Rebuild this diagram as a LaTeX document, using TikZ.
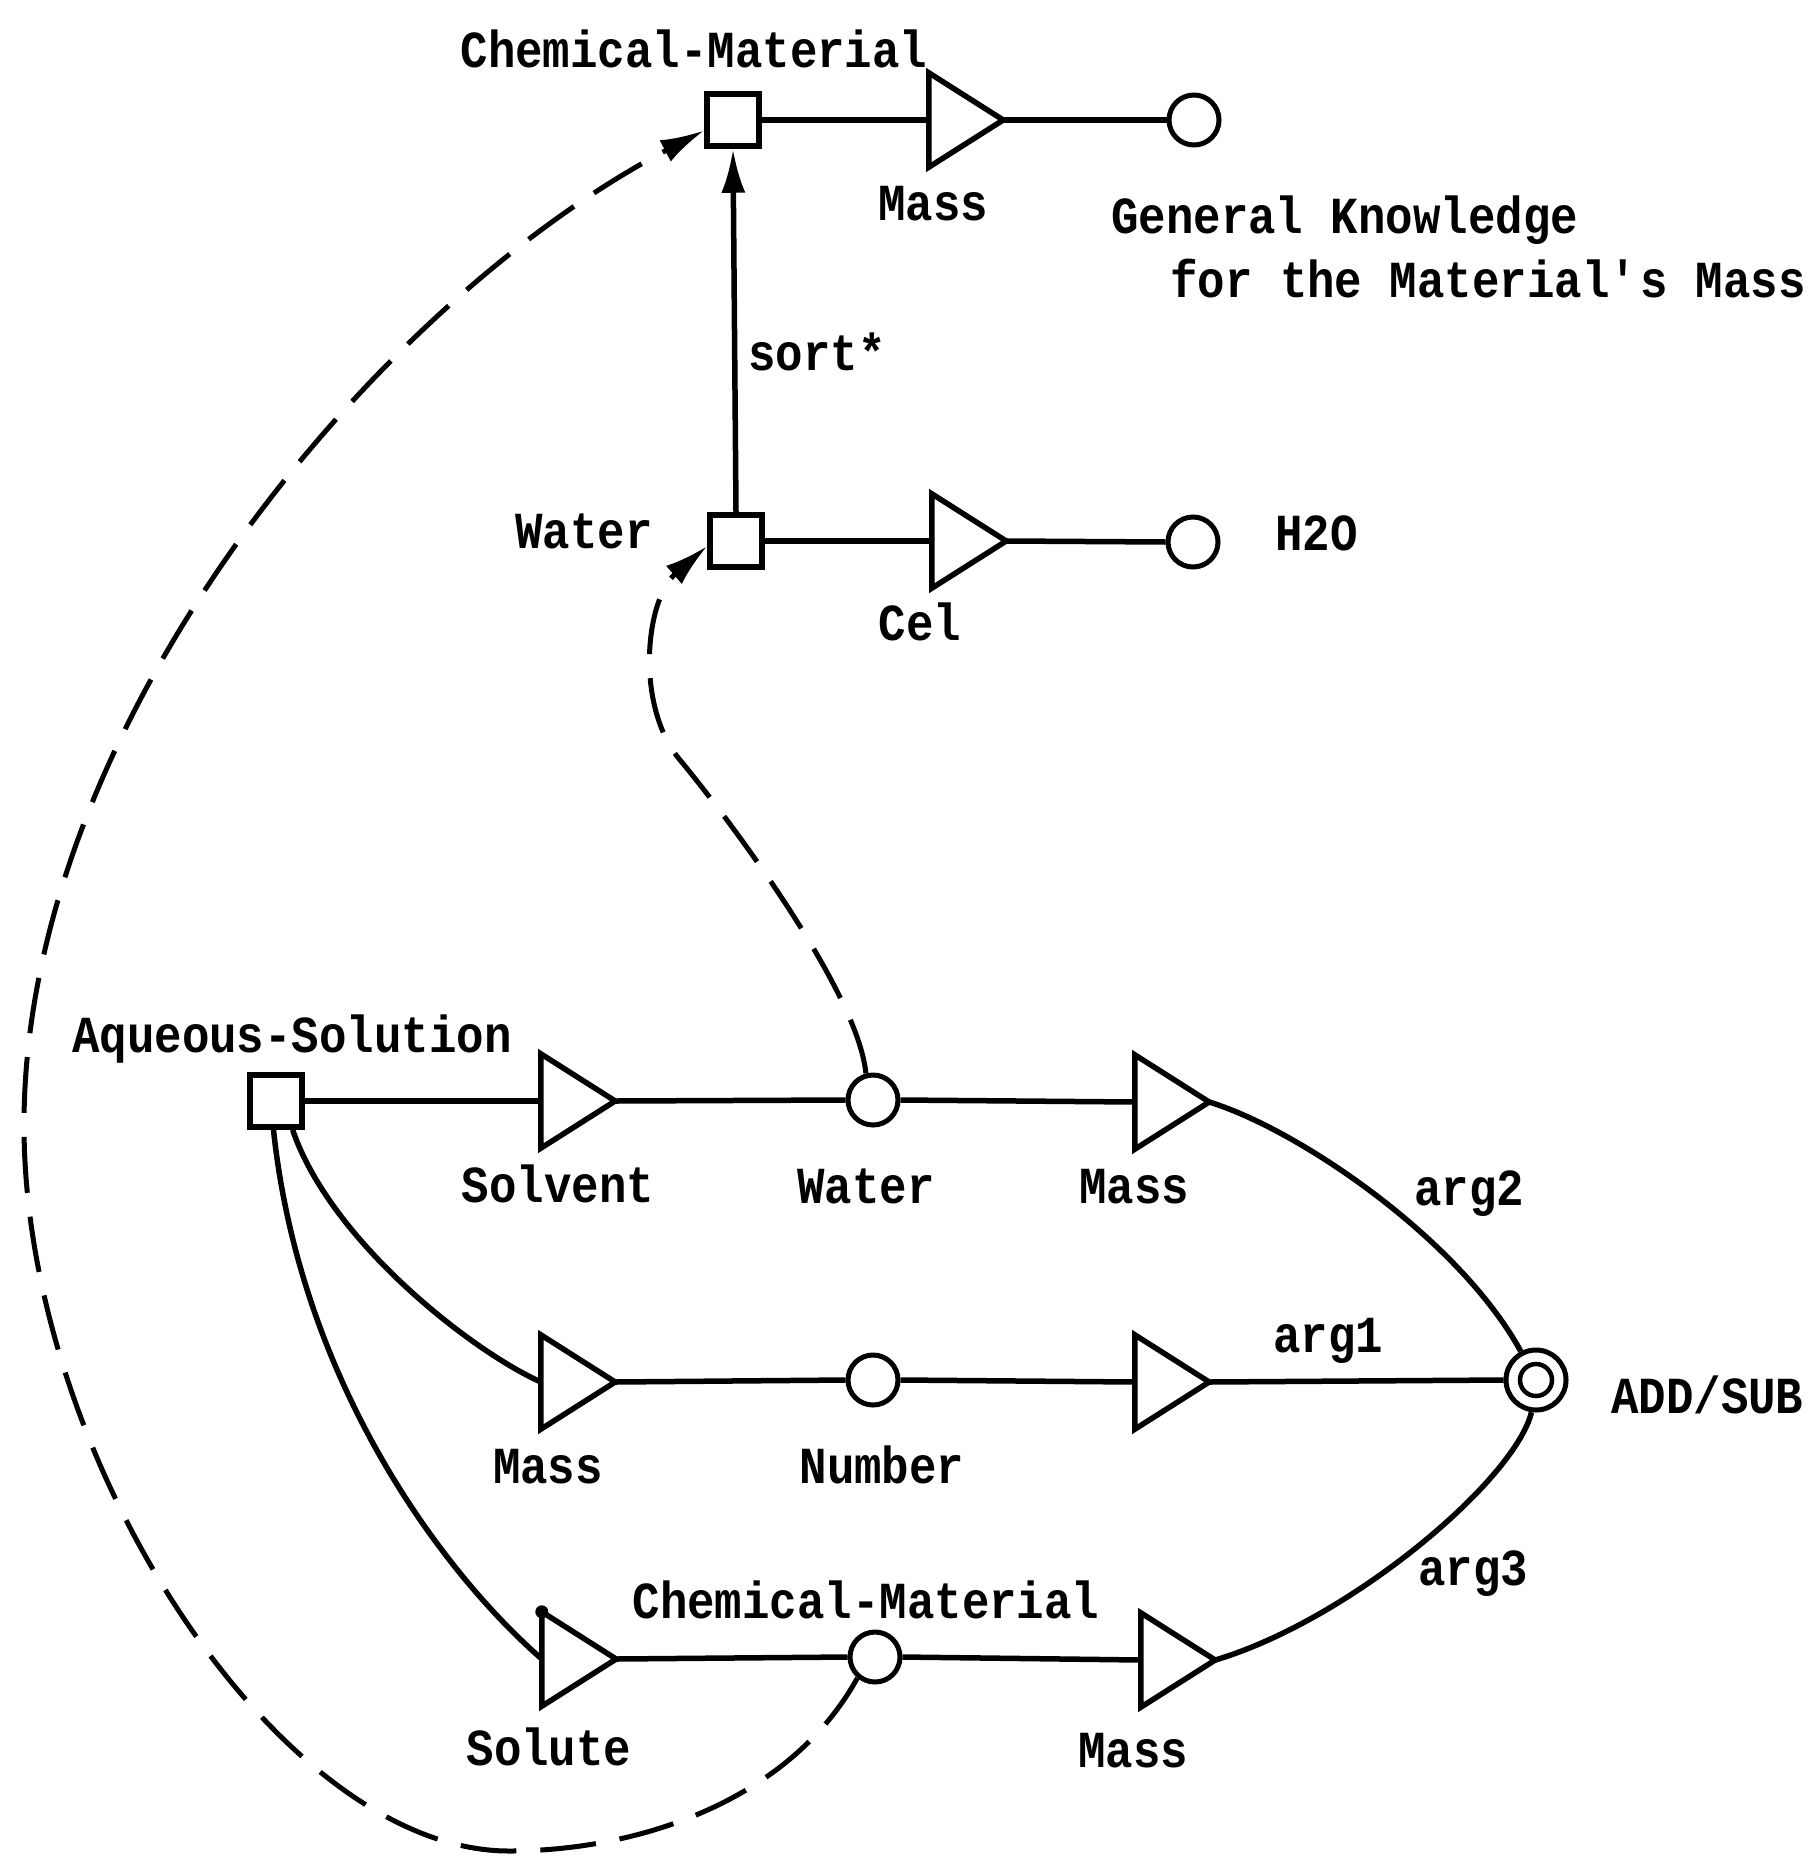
\documentclass[tikz,border=0pt]{standalone}
\usepackage{fontspec}
\usetikzlibrary{arrows.meta}
\newfontfamily\lblfont{Liberation Mono}[FakeStretch=0.88]
\begin{document}
\begin{tikzpicture}[x=1pt,y=-1pt,
  conn/.style={line width=5.5pt},
  sq/.style={draw, rectangle, line width=5.5pt, minimum size=52pt, inner sep=0pt},
  cir/.style={draw, circle, line width=5pt, minimum size=50pt, inner sep=0pt},
  tri/.style={rectangle, inner sep=0pt, minimum width=74pt, minimum height=94pt},
  lbl/.style={inner sep=0pt, font=\lblfont\bfseries\fontsize{52pt}{60pt}\selectfont},
  dsh/.style={line width=5pt, dash pattern=on 56pt off 24pt},
  arr/.style={-{Latex[length=44pt,width=24pt]}}
]
\fill[white] (0,0) rectangle (1813,1857);
\useasboundingbox (0,0) rectangle (1813,1857);

% concept boxes, relation triangles and referent circles
\node[sq]  (cmTop)    at (733,120)  {};
\node[tri] (tMassTop) at (966,120)  {};
\node[cir] (cTop)     at (1194,120) {};
\node[sq]  (wSq)      at (736,541)  {};
\node[tri] (tCel)     at (969,541)  {};
\node[cir] (cH2O)     at (1193,542) {};
\node[sq]  (aq)       at (276,1101) {};
\node[tri] (tSolv)    at (578,1101) {};
\node[cir] (cWater)   at (873,1100) {};
\node[tri] (tMass1)   at (1172,1102) {};
\node[tri] (tMass2)   at (578,1382) {};
\node[cir] (cNum)     at (873,1380) {};
\node[tri] (tMass3)   at (1172,1382) {};
\node[cir, minimum size=60pt] (add) at (1536,1380) {};
\node[tri] (tSolute)  at (579,1659) {};
\node[cir] (cCM)      at (875,1657) {};
\node[tri] (tMass4)   at (1178,1660) {};

\foreach \t in {tMassTop,tCel,tSolv,tMass1,tMass2,tMass3,tSolute,tMass4}
  \draw[conn] (\t.north west) -- (\t.east) -- (\t.south west) -- cycle;
\draw[line width=4.5pt] (add.center) circle[radius=16pt];
\fill (tSolute.north west) circle[radius=6.5pt];

% straight links
\draw[conn] (cmTop.east) -- (tMassTop.west);
\draw[conn] (tMassTop.east) -- (cTop.west);
\draw[conn, arr] (wSq.north) -- (cmTop.south);
\draw[conn] (wSq.east) -- (tCel.west);
\draw[conn] (tCel.east) -- (cH2O.west);
\draw[conn] (aq.east) -- (tSolv.west);
\draw[conn] (tSolv.east) -- (cWater.west);
\draw[conn] (cWater.east) -- (tMass1.west);
\draw[conn] (tMass2.east) -- (cNum.west);
\draw[conn] (cNum.east) -- (tMass3.west);
\draw[conn] (tMass3.east) -- (add.west);
\draw[conn] (tSolute.east) -- (cCM.west);
\draw[conn] (cCM.east) -- (tMass4.west);

% curved links
\draw[conn] (aq.-60) .. controls (330,1240) and (470,1350) .. (tMass2.west);
\draw[conn] (aq.-95) .. controls (300,1380) and (440,1570) .. (tSolute.west);
\draw[conn] (tMass1.east) .. controls (1300,1130) and (1460,1240) .. (add.118);
\draw[conn] (add.-98) .. controls (1515,1480) and (1350,1620) .. (tMass4.east);

% coreference links
\draw[dsh, arr] (cWater.105) .. controls (858,990) and (725,814) .. (680,760)
  .. controls (635,706) and (645,600) .. (wSq.190);
\draw[dsh, arr] (cCM.230) .. controls (790,1800) and (640,1851) .. (509,1851)
  .. controls (280,1851) and (24,1460) .. (24,1125)
  .. controls (24,720) and (380,300) .. (cmTop.200);

% labels
\node[lbl, anchor=base] (lCMtop) at (694,68) {Chemical-Material};
\node[lbl, anchor=base] (lMassTop) at (933,220) {Mass};
\node[lbl, anchor=base west] (lGK1) at (1111,233) {General Knowledge};
\node[lbl, anchor=base west] (lGK2) at (1170,297) {for the Material\textquotesingle s Mass};
\node[lbl, anchor=base west] (lSort) at (748,370) {sort*};
\node[lbl, anchor=base] (lWaterTop) at (584,548) {Water};
\node[lbl, anchor=base] (lCel) at (920,640) {Cel};
\node[lbl, anchor=base west] (lH2O) at (1275,550) {H2O};
\node[lbl, anchor=base west] (lAq) at (72,1052) {Aqueous-Solution};
\node[lbl, anchor=base] (lSolv) at (558,1202) {Solvent};
\node[lbl, anchor=base] (lWater) at (866,1203) {Water};
\node[lbl, anchor=base] (lMass1) at (1134,1203) {Mass};
\node[lbl, anchor=base] (lArg2) at (1469,1205) {arg2};
\node[lbl, anchor=base] (lMass2) at (548,1483) {Mass};
\node[lbl, anchor=base] (lNum) at (882,1483) {Number};
\node[lbl, anchor=base] (lArg1) at (1328,1352) {arg1};
\node[lbl, anchor=base west] (lAdd) at (1611,1413) {ADD/SUB};
\node[lbl, anchor=base] (lCM) at (866,1618) {Chemical-Material};
\node[lbl, anchor=base] (lSolute) at (549,1765) {Solute};
\node[lbl, anchor=base] (lMass4) at (1133,1767) {Mass};
\node[lbl, anchor=base] (lArg3) at (1473,1585) {arg3};
\end{tikzpicture}
\end{document}
